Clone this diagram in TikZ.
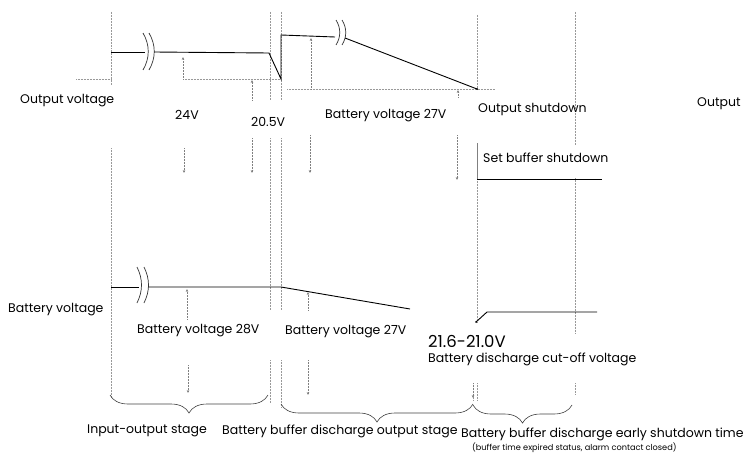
\documentclass[tikz,border=0pt]{standalone}
\usepackage{fontspec}
\setmainfont{Poppins}
\usetikzlibrary{arrows.meta,decorations.pathreplacing}
\begin{document}
\begin{tikzpicture}[x=1pt,y=-1pt,
  guide/.style={densely dotted, draw=gray!80, line width=0.5pt},
  wave/.style={line width=0.9pt, draw=black},
  ptr/.style={densely dotted, draw=gray, line width=0.5pt, -{Stealth[length=3pt,width=2.6pt]}},
  lbl/.style={font=\fontsize{12.5}{14}\selectfont, inner sep=0pt, anchor=west},
  big/.style={font=\fontsize{16.5}{18}\selectfont, inner sep=0pt, anchor=west},
  small/.style={font=\fontsize{8.2}{9}\selectfont, inner sep=0pt, anchor=west},
  brk/.style={line width=0.7pt, draw=black!80},
  curly/.style={decorate, decoration={brace, amplitude=18pt}, draw=black!75, line width=0.6pt},
]
\useasboundingbox (0,0) rectangle (743,460);

% ---------- vertical guides ----------
\draw[guide] (111,12) -- (111,85);
\draw[guide] (111,148) -- (111,398);
\draw[guide] (270,12) -- (270,100);
\draw[guide] (270,138) -- (270,310);
\draw[guide] (270,360) -- (270,403);
\draw[guide] (281,12) -- (281,100);
\draw[guide] (281,138) -- (281,310);
\draw[guide] (281,360) -- (281,407);
\draw[guide] (477,15) -- (477,89);
\draw[guide] (477,179) -- (477,322);
\draw[guide] (473,383) -- (473,400);
\draw[guide] (477,383) -- (477,400);
\draw[guide] (575,12) -- (575,145);
\draw[guide] (575,178) -- (575,333);
\draw[guide] (575,383) -- (575,395);

% ---------- horizontal guides ----------
\draw[guide] (76,79) -- (111,79);
\draw[guide] (183,79) -- (281,79);
\draw[guide] (287,89) -- (495,89);

% ---------- output voltage waveform ----------
\draw[wave] (111,52) -- (145,52);
\draw[brk] (143,33) .. controls (150,45) and (150,58) .. (143,70);
\draw[brk] (149,33) .. controls (156,45) and (156,58) .. (149,70);
\draw[wave] (154,52) -- (269,53) -- (281,79) -- (281,35) -- (335,37);
\draw[brk] (336,20) .. controls (341,28) and (341,37) .. (336,45);
\draw[brk] (342,20) .. controls (347,28) and (347,37) .. (342,45);
\draw[wave] (345,38) -- (477,89);
\fill (477,89) circle (1pt);

% set buffer shutdown step
\draw[line width=0.5pt, draw=gray] (477,143) -- (477,179);
\draw[wave] (477,179) -- (602,179);

% ---------- battery voltage waveform ----------
\draw[wave] (111,287) -- (139,287);
\draw[brk] (137,267) .. controls (143,279) and (143,291) .. (137,303);
\draw[brk] (144,267) .. controls (150,279) and (150,291) .. (144,303);
\draw[wave] (148,287) -- (281,287) -- (410,309);
\draw[wave] (476,322) -- (487,312) -- (597,312);
\fill (476,322) circle (1pt);

% ---------- pointer arrows ----------
\coordinate (a1s) at (183,79);   \coordinate (a1e) at (183,57);
\coordinate (a2s) at (252,100);  \coordinate (a2e) at (252,80);
\coordinate (a3s) at (311,89);   \coordinate (a3e) at (311,38);
\coordinate (a4s) at (458,97);   \coordinate (a4e) at (458,90);
\draw[ptr] (a1s) -- (a1e);
\draw[ptr] (a2s) -- (a2e);
\draw[ptr] (a3s) -- (a3e);
\draw[ptr] (a4s) -- (a4e);

\coordinate (b1s) at (184,148); \coordinate (b1e) at (184,173);
\coordinate (b2s) at (252,138); \coordinate (b2e) at (252,173);
\coordinate (b3s) at (310,135); \coordinate (b3e) at (310,173);
\coordinate (b4s) at (457,135); \coordinate (b4e) at (457,180);
\draw[ptr] (b1s) -- (b1e);
\draw[ptr] (b2s) -- (b2e);
\draw[ptr] (b3s) -- (b3e);
\draw[ptr] (b4s) -- (b4e);

\coordinate (c1s) at (187,319); \coordinate (c1e) at (187,289);
\coordinate (c2s) at (308,310); \coordinate (c2e) at (308,292);
\draw[ptr] (c1s) -- (c1e);
\draw[ptr] (c2s) -- (c2e);

\coordinate (d1s) at (188,365); \coordinate (d1e) at (188,393);
\coordinate (d2s) at (308,360); \coordinate (d2e) at (308,395);
\coordinate (d3s) at (473,383); \coordinate (d3e) at (473,398);
\draw[ptr] (d1s) -- (d1e);
\draw[ptr] (d2s) -- (d2e);
\draw[ptr] (d3s) -- (d3e);

% ---------- braces ----------
\draw[curly] (268,395) -- (110,395);
\draw[curly] (473,404) -- (281,404);
\draw[curly] (572,405) -- (473,405);

% ---------- labels ----------
\node[lbl] (outv) at (20,101) {Output voltage};
\node[lbl] (v24) at (175,115) {24V};
\node[lbl] (v205) at (251,122) {20.5V};
\node[lbl] (bv27a) at (325,116) {Battery voltage 27V};
\node[lbl] (oshut) at (478,109) {Output shutdown};
\node[lbl] (outr) at (697,104) {Output};
\node[lbl] (sbs) at (483,158) {Set buffer shutdown};

\node[lbl] (batv) at (8,310) {Battery voltage};
\node[lbl] (bv28) at (137,331) {Battery voltage 28V};
\node[lbl] (bv27b) at (285,332) {Battery voltage 27V};
\node[big] (v216) at (428,341) {21.6-21.0V};
\node[lbl] (bdc) at (428,359) {Battery discharge cut-off voltage};

\node[lbl] (ios) at (87,431) {Input-output stage};
\node[lbl] (bbdos) at (222,431) {Battery buffer discharge output stage};
\node[lbl] (bbdes) at (461,434) {Battery buffer discharge early shutdown time};
\node[small] (note) at (472,448) {(buffer time expired status, alarm contact closed)};
\end{tikzpicture}
\end{document}
